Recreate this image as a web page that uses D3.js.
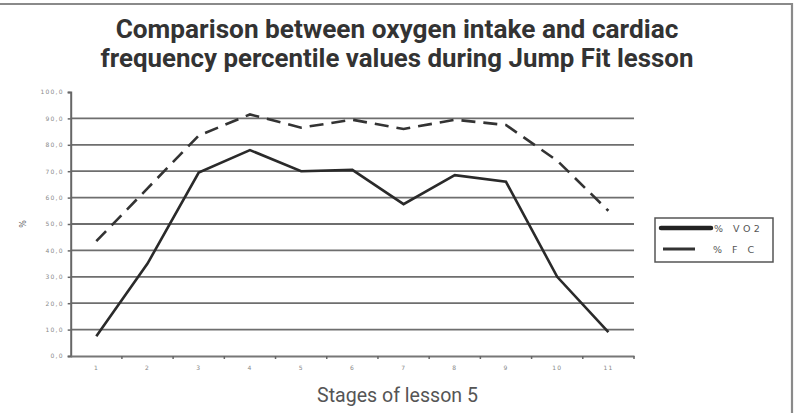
<!DOCTYPE html>
<html><head><meta charset="utf-8">
<script src="https://cdn.jsdelivr.net/npm/d3@7"></script>
<style>body{margin:0;background:#fff}svg{display:block}</style>
</head><body>
<svg id="c" width="796" height="413"></svg>
<script>
const stages = ["1","2","3","4","5","6","7","8","9","10","11"];
const vo2 = [7.5, 35, 69.5, 78, 70, 70.5, 57.5, 68.5, 66, 30, 9];
const fc  = [43.5, 63.5, 83.5, 91.5, 86.5, 89.5, 86, 89.5, 87.5, 74, 55];
const yTicks = [0,10,20,30,40,50,60,70,80,90,100];
const titleLines = ["Comparison between oxygen intake and cardiac","frequency percentile values during Jump Fit lesson"];
const seriesNames = ["% VO2", "% F C"];

const svg = d3.select("#c");
const m = {left:70.7, right:634, top:92, bottom:356};
const x = d3.scaleBand().domain(stages).range([m.left, m.right]);
const y = d3.scaleLinear().domain([0,100]).range([m.bottom, m.top]);

// frame (top + right)
svg.append("path").attr("d","M0,4H792V413").attr("fill","none").attr("stroke","#8a8a8a").attr("stroke-width",2.2);

// title
const tl = svg.append("g");
const tw = [563, 593];
titleLines.forEach((t,i)=>{
  const tx = tl.append("text").attr("x",397).attr("y",[38,67][i]).attr("text-anchor","middle")
    .attr("font-family","Roboto, 'Liberation Sans', sans-serif").attr("font-weight","bold")
    .attr("font-size",22).attr("fill","#333").text(t);
  const w = tx.node().getComputedTextLength();
  tx.attr("font-size", 22*tw[i]/w);
});

// gridlines
svg.append("g").selectAll("line").data(yTicks.filter(d=>d>0 && d<100)).join("line")
  .attr("x1",m.left).attr("x2",m.right).attr("y1",d=>y(d)).attr("y2",d=>y(d))
  .attr("stroke","#6e6e6e").attr("stroke-width",1.8);

// y axis
const ya = svg.append("g").attr("transform",`translate(${m.left},0)`)
  .call(d3.axisLeft(y).tickValues(yTicks).tickSize(3).tickPadding(4).tickFormat(d=>d.toFixed(1).replace(".",",")));
ya.select(".domain").attr("stroke","#666").attr("stroke-width",2);
ya.selectAll(".tick line").attr("stroke","#666").attr("stroke-width",1.5);
ya.selectAll("text").attr("font-family","'DejaVu Sans', sans-serif").attr("font-size",6).attr("fill","#888").attr("letter-spacing",1.2);

// x axis
const xa = svg.append("g").attr("transform",`translate(0,${m.bottom})`)
  .call(d3.axisBottom(x).tickSize(0).tickPadding(10));
xa.select(".domain").attr("stroke","#777").attr("stroke-width",2);
xa.selectAll("text").attr("font-family","'DejaVu Sans', sans-serif").attr("font-size",6).attr("fill","#888").attr("letter-spacing",1);
// boundary ticks
const bounds = stages.map(s=>x(s)).concat([x.range()[1]]);
svg.append("g").selectAll("line").data(bounds.slice(1)).join("line")
  .attr("x1",d=>d).attr("x2",d=>d).attr("y1",m.bottom).attr("y2",m.bottom+3)
  .attr("stroke","#666").attr("stroke-width",1.5);

// y label
svg.append("text").attr("transform","translate(26,224) rotate(-90)").attr("text-anchor","middle")
  .attr("font-family","'DejaVu Sans', sans-serif").attr("font-size",8).attr("fill","#666").text("%");

// x label
const xl = svg.append("text").attr("x",397.5).attr("y",402).attr("text-anchor","middle")
  .attr("font-family","Roboto, 'Liberation Sans', sans-serif").attr("font-size",18).attr("fill","#555").text("Stages of lesson 5");
xl.attr("font-size", 18*161/xl.node().getComputedTextLength());

// lines
const line = d3.line().x((d,i)=>x(stages[i])+x.bandwidth()/2).y(d=>y(d));
svg.append("path").datum(fc).attr("d",line).attr("fill","none").attr("stroke","#333")
  .attr("stroke-width",2.6).attr("stroke-dasharray","14,8");
svg.append("path").datum(vo2).attr("d",line).attr("fill","none").attr("stroke","#2a2a2a")
  .attr("stroke-width",2.6).attr("stroke-linejoin","miter");

// legend
const lg = svg.append("g");
lg.append("rect").attr("x",655).attr("y",218).attr("width",118).attr("height",44)
  .attr("fill","#fff").attr("stroke","#555").attr("stroke-width",1.5);
lg.append("line").attr("x1",661).attr("x2",711).attr("y1",228).attr("y2",228)
  .attr("stroke","#222").attr("stroke-width",4.5).attr("stroke-linecap","round");
lg.append("line").attr("x1",663).attr("x2",695).attr("y1",249).attr("y2",249)
  .attr("stroke","#333").attr("stroke-width",3);
lg.append("text").attr("x",714).attr("y",232).attr("font-family","'DejaVu Sans', sans-serif")
  .attr("font-size",9.5).attr("fill","#555").attr("letter-spacing",3.5).attr("xml:space","preserve").text(seriesNames[0]);
lg.append("text").attr("x",713).attr("y",253).attr("font-family","'DejaVu Sans', sans-serif")
  .attr("font-size",9.5).attr("fill","#555").attr("letter-spacing",3.5).attr("xml:space","preserve").text(seriesNames[1]);
</script>
</body></html>
